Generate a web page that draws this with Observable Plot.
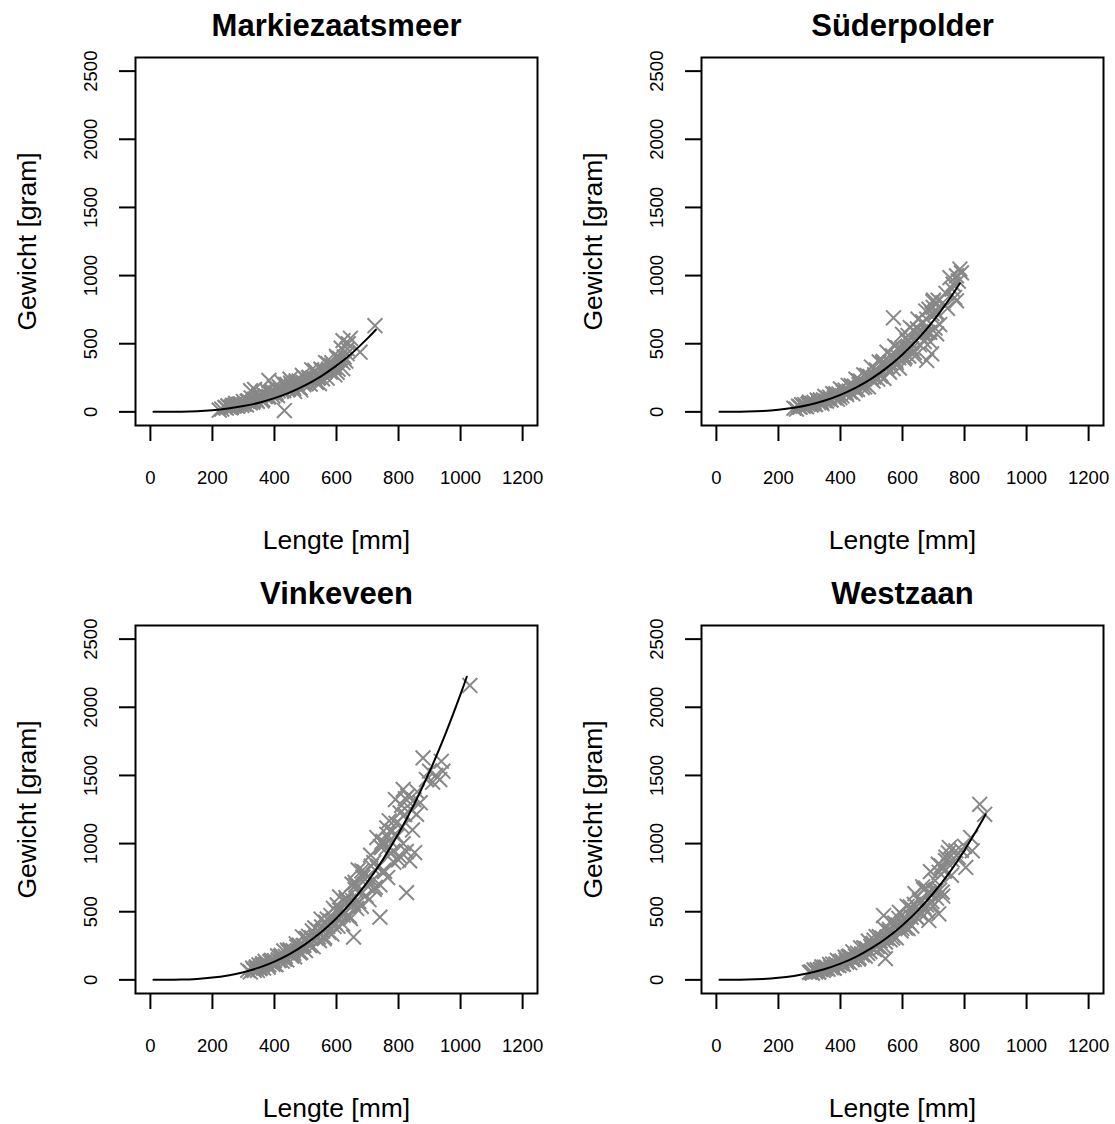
<!DOCTYPE html>
<html>
<head>
<meta charset="utf-8">
<script src="https://cdn.jsdelivr.net/npm/d3@7"></script>
<script src="https://cdn.jsdelivr.net/npm/@observablehq/plot@0.6"></script>
<style>
  html, body { margin: 0; padding: 0; background: white; overflow: hidden; }
  #chart { position: relative; width: 1115px; height: 1124px; }
  .panel { position: absolute; }
</style>
</head>
<body>
<div id="chart"></div>
<script>
// ---- Data ----
const xTicks = [0, 200, 400, 600, 800, 1000, 1200];
const yTicks = [0, 500, 1000, 1500, 2000, 2500];
const xLabel = "Lengte [mm]";
const yLabel = "Gewicht [gram]";
const titles = ["Markiezaatsmeer", "Süderpolder", "Vinkeveen", "Westzaan"];

// [length mm, weight g]
const markiezaatsmeerPoints = [[222,12],[230,20],[240,33],[245,28],[250,44],[255,35],[260,30],[265,48],[270,43],[275,62],[280,43],[285,56],[290,57],[295,48],[300,76],[305,60],[310,51],[315,81],[320,72],[323,155],[325,102],[330,71],[335,91],[336,165],[340,93],[345,77],[350,121],[355,95],[360,81],[365,126],[370,111],[375,157],[380,108],[382,231],[385,139],[390,140],[395,116],[400,181],[405,141],[410,119],[415,185],[420,163],[425,215],[430,156],[432,10],[435,200],[440,201],[445,166],[450,240],[455,200],[460,183],[465,150],[470,228],[475,185],[480,226],[485,161],[490,268],[495,200],[500,245],[505,233],[510,250],[515,204],[520,309],[525,250],[530,304],[535,216],[540,247],[545,208],[550,313],[555,242],[560,303],[565,362],[570,247],[575,313],[580,291],[585,361],[590,323],[595,271],[600,407],[605,313],[610,392],[615,467],[620,318],[625,403],[630,373],[635,462],[590,339],[602,290],[621,361],[621,523],[634,427],[638,501],[645,540],[676,438],[724,632],
  [262,38],[272,49],[282,42],[292,57],[302,57],[312,77],[322,66],[332,81],[342,85],[352,107],[362,90],[372,118],[382,114],[392,152],[402,128],[412,154],[422,160],[432,197],[442,163],[452,211],[462,171],[472,207],[482,176],[492,216],[502,209],[512,254],[522,246],[532,296],[542,251],[552,305],[562,293],[572,354],[582,341],[592,327],[602,395],[612,379]];
const markiezaatsmeerFit = [[10,0],[50,0.2],[100,1.6],[150,5.3],[200,12.6],[250,24.5],[300,42.4],[350,67.3],[400,100.5],[450,143],[500,196],[550,261],[600,339],[650,431],[700,539],[727,603]];

const suderpolderPoints = [[250,27],[258,20],[265,42],[270,34],[275,53],[280,41],[285,54],[290,38],[295,55],[300,71],[305,50],[310,61],[315,70],[320,56],[325,87],[330,67],[335,88],[340,61],[345,88],[350,113],[355,79],[360,96],[365,109],[370,87],[375,134],[380,102],[385,134],[390,93],[395,132],[400,169],[405,117],[410,141],[415,160],[420,127],[425,195],[430,147],[435,193],[440,133],[445,189],[450,240],[455,165],[460,199],[465,226],[470,178],[475,272],[480,205],[485,267],[490,184],[495,260],[500,329],[505,226],[510,272],[515,306],[520,241],[525,367],[530,276],[535,359],[540,246],[545,347],[550,438],[555,300],[560,360],[565,405],[570,318],[571,690],[575,482],[580,362],[585,469],[590,321],[595,452],[600,569],[605,389],[610,465],[615,522],[620,409],[625,619],[630,463],[635,599],[640,409],[645,576],[650,680],[655,493],[660,589],[665,660],[670,516],[675,740],[678,377],[680,583],[685,753],[690,513],[694,426],[695,721],[699,766],[700,820],[705,615],[710,572],[710,733],[715,820],[720,641],[730,800],[740,870],[745,760],[753,985],[760,900],[763,937],[768,839],[774,998],[774,815],[780,960],[785,1048],[790,1020],
  [268,37],[278,47],[288,43],[298,63],[308,60],[318,54],[328,79],[338,75],[348,82],[358,100],[368,89],[378,128],[388,119],[398,105],[408,152],[418,142],[428,152],[438,183],[448,161],[458,228],[468,209],[478,183],[488,260],[498,240],[508,255],[518,303],[528,263],[538,370],[548,336],[558,291],[568,410],[578,376],[588,396],[598,466],[608,402],[618,560],[628,506],[638,435],[648,609],[658,555],[668,580],[678,680],[688,583],[698,808],[708,726]];
const suderpolderFit = [[10,0],[50,0.2],[100,2],[150,6.6],[200,15.6],[250,30.5],[300,52.7],[350,83.7],[400,124.9],[450,177.8],[500,243.9],[550,324.6],[600,421.4],[650,535.8],[700,669.2],[750,823.1],[785,944]];

const vinkeveenPoints = [[314,70],[322,58],[330,87],[335,69],[340,87],[345,69],[350,110],[355,89],[360,108],[365,87],[370,136],[375,111],[380,94],[385,134],[390,143],[395,114],[400,141],[405,111],[410,176],[415,142],[420,171],[425,137],[430,213],[435,173],[440,146],[445,207],[450,220],[455,174],[460,214],[465,169],[470,265],[475,213],[480,255],[485,203],[490,316],[495,254],[500,215],[505,302],[510,320],[515,252],[520,309],[525,243],[530,381],[535,305],[540,363],[545,288],[550,446],[555,358],[560,302],[565,423],[570,446],[575,351],[580,429],[585,336],[590,525],[595,419],[600,498],[605,394],[610,609],[615,488],[620,410],[625,573],[630,603],[635,472],[640,577],[645,450],[650,702],[655,560],[655,314],[660,663],[660,715],[665,524],[670,807],[675,645],[680,540],[685,754],[690,792],[695,619],[700,755],[705,588],[710,915],[715,728],[720,861],[725,679],[730,1044],[735,832],[740,697],[740,460],[745,971],[746,1007],[750,1017],[755,794],[760,966],[762,1068],[765,751],[770,1167],[775,927],[780,1094],[785,862],[790,1323],[795,1053],[800,880],[805,1225],[810,1281],[815,999],[815,1397],[820,1213],[825,942],[826,640],[830,1350],[836,873],[840,1250],[845,1100],[850,1320],[852,934],[858,1215],[860,1380],[870,1300],[879,1628],[890,1470],[900,1531],[910,1450],[920,1500],[933,1470],[938,1604],[943,1531],[1030,2160],
  [332,77],[342,96],[352,83],[362,120],[372,115],[382,110],[392,139],[402,115],[412,147],[422,180],[432,153],[442,218],[452,206],[462,195],[472,243],[482,198],[492,250],[502,303],[512,254],[522,359],[532,335],[542,315],[552,389],[562,313],[572,393],[582,472],[592,392],[602,550],[612,511],[622,475],[632,583],[642,467],[652,582],[662,695],[672,574],[682,800],[692,738],[702,683],[712,834],[722,664],[732,824],[742,978],[752,804],[762,1115],[772,1024],[782,944],[792,1148],[802,910],[812,1124],[822,1330]];
const vinkeveenFit = [[10,0],[50,0.3],[100,2.1],[150,7.1],[200,16.8],[250,32.8],[300,56.6],[350,89.9],[400,134.1],[450,191],[500,262],[550,348.7],[600,452.7],[650,575.6],[700,718.9],[750,884.3],[800,1073.2],[850,1287.2],[900,1528],[950,1797],[1000,2096],[1020,2224]];

const westzaanPoints = [[300,55],[305,59],[310,50],[315,73],[320,58],[325,75],[330,57],[335,75],[340,95],[345,70],[350,81],[355,93],[360,78],[365,113],[370,89],[375,116],[380,87],[385,115],[390,143],[395,105],[400,121],[405,138],[410,115],[415,166],[420,131],[425,168],[430,126],[435,165],[440,206],[445,151],[450,173],[455,196],[460,163],[465,234],[470,183],[475,235],[480,175],[485,229],[490,284],[495,207],[500,237],[505,268],[510,222],[515,317],[520,248],[525,317],[530,235],[535,307],[539,472],[540,380],[545,277],[545,156],[550,315],[555,356],[560,294],[565,419],[570,327],[575,417],[580,308],[585,402],[590,496],[595,360],[600,409],[605,461],[610,380],[615,540],[620,421],[625,535],[630,395],[635,514],[640,633],[645,459],[650,520],[655,585],[660,481],[665,683],[670,531],[675,674],[680,497],[685,645],[685,436],[690,794],[695,574],[700,650],[705,729],[707,655],[710,599],[715,849],[717,485],[720,659],[725,836],[728,825],[730,614],[735,797],[739,874],[740,900],[751,971],[760,880],[772,947],[780,900],[790,950],[800,980],[804,825],[820,1044],[825,947],[849,1288],[865,1215],
  [308,54],[318,68],[328,59],[338,77],[348,94],[358,81],[368,97],[378,86],[388,108],[398,134],[408,113],[418,146],[428,174],[438,148],[448,175],[458,153],[468,190],[478,233],[488,194],[498,247],[508,291],[518,245],[528,286],[538,248],[548,305],[558,370],[568,306],[578,387],[588,452],[598,377],[608,437],[618,376],[628,459],[638,554],[648,454],[658,570],[668,663],[678,549],[688,634],[698,542],[708,658],[718,789],[728,644],[738,805],[748,931],[758,767]];
const westzaanFit = [[10,0],[50,0.2],[100,1.9],[150,6.3],[200,14.9],[250,29],[300,50.2],[350,79.7],[400,118.9],[450,169.3],[500,232.3],[550,309.1],[600,401.3],[650,510.2],[700,637.3],[750,783.8],[800,951.3],[850,1141],[868,1215]];

// ---- Drawing ----
const fmt = d3.format("d");
function panel(title, pts, fit) {
  return Plot.plot({
    width: 549,
    height: 556,
    marginLeft: 135,
    marginRight: 12,
    marginTop: 57,
    marginBottom: 131,
    x: {domain: [-48, 1248]},
    y: {domain: [-100, 2600]},
    style: {fontFamily: "'Liberation Sans', Arial, sans-serif", background: "white", color: "black"},
    marks: [
      Plot.dot(pts, {x: d => d[0], y: d => d[1], symbol: "times", r: 6.8, stroke: "#888888", strokeWidth: 2}),
      Plot.line(fit, {x: d => d[0], y: d => d[1], stroke: "black", strokeWidth: 2, curve: "natural"}),
      Plot.frame({stroke: "black", strokeWidth: 2}),
      Plot.axisX({ticks: xTicks, tickFormat: fmt, tickSize: 16, tickPadding: 29, fontSize: 18.5, strokeWidth: 2, label: null}),
      Plot.axisY({ticks: yTicks, tickFormat: fmt, tickSize: 16, tickPadding: 23, tickRotate: -90, fontSize: 18.5, strokeWidth: 2, label: null}),
      Plot.text([title], {frameAnchor: "top", dy: -22, textAnchor: "middle", lineAnchor: "bottom", fontSize: 31, fontWeight: "bold"}),
      Plot.text([xLabel], {frameAnchor: "bottom", dy: 123, textAnchor: "middle", lineAnchor: "bottom", fontSize: 26.5}),
      Plot.text([yLabel], {frameAnchor: "left", dx: -100, rotate: -90, textAnchor: "middle", lineAnchor: "bottom", fontSize: 26.5})
    ]
  });
}

const specs = [
  {pts: markiezaatsmeerPoints, fit: markiezaatsmeerFit, left: 0, top: 0},
  {pts: suderpolderPoints, fit: suderpolderFit, left: 566, top: 0},
  {pts: vinkeveenPoints, fit: vinkeveenFit, left: 0, top: 568},
  {pts: westzaanPoints, fit: westzaanFit, left: 566, top: 568}
];
const chart = document.getElementById("chart");
specs.forEach((s, i) => {
  const div = document.createElement("div");
  div.className = "panel";
  div.style.left = s.left + "px";
  div.style.top = s.top + "px";
  div.appendChild(panel(titles[i], s.pts, s.fit));
  chart.appendChild(div);
});
</script>
</body>
</html>
